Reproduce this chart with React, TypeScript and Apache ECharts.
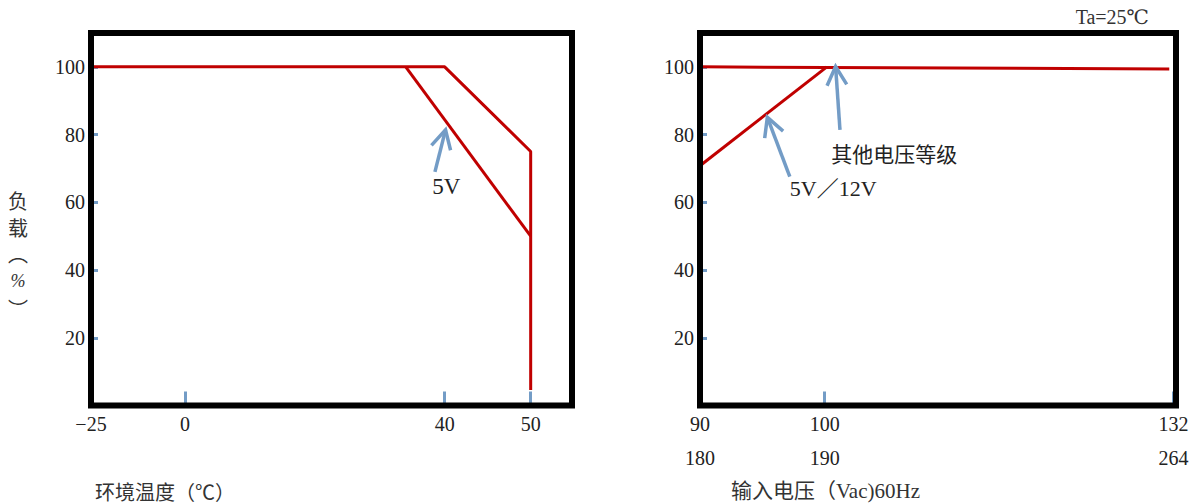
import React, { useEffect, useRef } from 'react';
import * as echarts from 'echarts';

// ---- data ----
const loadTicks = [20, 40, 60, 80, 100];
const tempTicks = [-25, 0, 40, 50];
const voltTicks = [90, 100, 132];
const voltTicks230 = [180, 190, 264];

// Load (%) vs ambient temperature (°C)
const tempDerating: [number, number][] = [[-25, 100], [40, 100], [50, 75], [50, 4.6]];
const tempDerating5V: [number, number][] = [[34, 100], [50, 50]];
// Load (%) vs input voltage (Vac)
const voltDeratingOther: [number, number][] = [[90, 100], [131.6, 99.4]];
const voltDerating5V12V: [number, number][] = [[90, 70.8], [100.2, 100]];

type Note = { text: string; tip: [number, number]; tail: [number, number]; at: [number, number]; align: string; size: number };
const tempNotes: Note[] = [
  { text: '5V', tip: [40.1, 81.4], tail: [38.5, 69], at: [40.2, 64.6], align: 'center', size: 23 },
];
const voltNotes: Note[] = [
  { text: '其他电压等级', tip: [101.0, 100.1], tail: [101.4, 81.4], at: [100.6, 74.5], align: 'left', size: 21 },
  { text: '5V／12V', tip: [95.4, 85.1], tail: [97.2, 67.6], at: [97.2, 64.2], align: 'left', size: 22 },
];

// ---- non-uniform axis scales (value -> fraction of axis length) ----
const tempScaleKnots: [number, number][] = [[-25, 0], [0, 0.1954], [40, 0.7353], [50, 0.9141], [54.8, 1]];
const voltScaleKnots: [number, number][] = [[90, 0], [100, 0.262], [132, 0.995], [132.2, 1]];

function makeScale(knots: [number, number][]) {
  return (v: number) => {
    for (let i = 0; i < knots.length - 1; i++) {
      const [a, fa] = knots[i];
      const [b, fb] = knots[i + 1];
      if (v <= b || i === knots.length - 2) {
        return fa + ((v - a) / (b - a)) * (fb - fa);
      }
    }
    return 0;
  };
}
const sxTemp = makeScale(tempScaleKnots);
const sxVolt = makeScale(voltScaleKnots);

const SERIF = "'Liberation Serif', 'DejaVu Serif', 'Noto Sans CJK SC', serif";
const CJK = "'Noto Sans CJK SC', 'Liberation Serif', sans-serif";
const RED = '#c00000';
const BLUE = '#739cc6';
const TXT = '#222';

const LG = { left: 91, top: 33, width: 481, height: 372.5 };
const RG = { left: 700, top: 33, width: 476, height: 372.5 };

function labelFormatter(positions: number[], labels: (number | string)[]) {
  return (val: number) => {
    const i = positions.findIndex((p) => Math.abs(p - val) < 1e-6);
    return i >= 0 ? String(labels[i]).replace('-', '−') : '';
  };
}

function xAxisOpt(gridIndex: number, positions: number[], labels: (number | string)[], withTicks: boolean, offset = 0) {
  return {
    type: 'value',
    gridIndex,
    min: 0,
    max: 1,
    offset,
    position: 'bottom',
    splitLine: { show: false },
    axisLine: { show: false },
    axisTick: {
      show: withTicks,
      inside: true,
      length: 14,
      customValues: positions,
      lineStyle: { color: BLUE, width: 3 },
    },
    axisLabel: {
      show: true,
      customValues: positions,
      formatter: labelFormatter(positions, labels),
      margin: 8,
      fontSize: 20,
      color: TXT,
      fontFamily: SERIF,
      showMinLabel: true,
      showMaxLabel: true,
    },
  };
}

function yAxisOpt(gridIndex: number) {
  return {
    type: 'value',
    gridIndex,
    min: 0,
    max: 110,
    splitLine: { show: false },
    axisLine: { show: false },
    axisTick: {
      show: true,
      inside: true,
      length: 7,
      customValues: loadTicks,
      lineStyle: { color: BLUE, width: 3 },
    },
    axisLabel: {
      customValues: loadTicks,
      margin: 6,
      fontSize: 20,
      color: TXT,
      fontFamily: SERIF,
    },
  };
}

function noteSeries(notes: Note[], sx: (v: number) => number, xAxisIndex: number, yAxisIndex: number) {
  return {
    type: 'custom',
    xAxisIndex,
    yAxisIndex,
    clip: false,
    z: 5,
    encode: { x: [0, 2, 4], y: [1, 3, 5] },
    data: notes.map((n) => [sx(n.tip[0]), n.tip[1], sx(n.tail[0]), n.tail[1], sx(n.at[0]), n.at[1]]),
    renderItem: (params: any, api: any) => {
      const note = notes[params.dataIndex];
      const tip = api.coord([api.value(0), api.value(1)]);
      const tail = api.coord([api.value(2), api.value(3)]);
      const at = api.coord([api.value(4), api.value(5)]);
      const ang = Math.atan2(tail[1] - tip[1], tail[0] - tip[0]);
      const L = 21;
      const a = (28 * Math.PI) / 180;
      const w1 = [tip[0] + L * Math.cos(ang + a), tip[1] + L * Math.sin(ang + a)];
      const w2 = [tip[0] + L * Math.cos(ang - a), tip[1] + L * Math.sin(ang - a)];
      const isCjk = /[\u4e00-\u9fff]/.test(note.text);
      return {
        type: 'group',
        children: [
          { type: 'polyline', shape: { points: [tip, tail] }, style: { stroke: BLUE, lineWidth: 3.5, fill: null } },
          { type: 'polyline', shape: { points: [w1, tip, w2] }, style: { stroke: BLUE, lineWidth: 3.5, fill: null } },
          {
            type: 'text',
            x: at[0],
            y: at[1],
            style: {
              text: note.text,
              fontSize: note.size,
              fontFamily: isCjk ? CJK : SERIF,
              fill: TXT,
              align: note.align,
              verticalAlign: 'middle',
            },
          },
        ],
      };
    },
  };
}

function lineSeries(points: [number, number][], sx: (v: number) => number, xAxisIndex: number, yAxisIndex: number) {
  return {
    type: 'line',
    xAxisIndex,
    yAxisIndex,
    symbol: 'none',
    z: 4,
    lineStyle: { color: RED, width: 3 },
    data: points.map(([x, y]) => [sx(x), y]),
  };
}

function vText(text: string, y: number, opts: any = {}) {
  const style: any = {
    text,
    fontSize: opts.fontSize || 20,
    fontFamily: opts.fontFamily || CJK,
    fontStyle: opts.fontStyle || 'normal',
    fill: '#333',
    align: 'center',
    verticalAlign: 'middle',
  };
  if (opts.lineHeight) style.lineHeight = opts.lineHeight;
  return { type: 'text', x: 18, y, style };
}

export default function App() {
  const ref = useRef<HTMLDivElement>(null);
  useEffect(() => {
    if (!ref.current) return;
    const chart = echarts.init(ref.current, undefined, { renderer: 'svg' });
    const tempPos = tempTicks.map(sxTemp);
    const voltPos = voltTicks.map(sxVolt);
    const frame = (g: typeof LG) => ({
      type: 'rect',
      z: 100,
      shape: { x: g.left, y: g.top, width: g.width, height: g.height },
      style: { fill: 'none', stroke: '#000', lineWidth: 6 },
    });
    chart.setOption({
      animation: false,
      backgroundColor: '#fff',
      grid: [
        { left: LG.left, top: LG.top, width: LG.width, height: LG.height, show: false },
        { left: RG.left, top: RG.top, width: RG.width, height: RG.height, show: false },
      ],
      xAxis: [
        xAxisOpt(0, tempPos, tempTicks, true),
        xAxisOpt(1, voltPos, voltTicks, true),
        xAxisOpt(1, voltPos, voltTicks230, false, 34),
      ],
      yAxis: [yAxisOpt(0), yAxisOpt(1)],
      series: [
        lineSeries(tempDerating, sxTemp, 0, 0),
        lineSeries(tempDerating5V, sxTemp, 0, 0),
        lineSeries(voltDeratingOther, sxVolt, 1, 1),
        lineSeries(voltDerating5V12V, sxVolt, 1, 1),
        noteSeries(tempNotes, sxTemp, 0, 0),
        noteSeries(voltNotes, sxVolt, 1, 1),
      ],
      graphic: [
        frame(LG),
        frame(RG),
        vText('负', 200, { lineHeight: 20 }),
        vText('载', 227, { lineHeight: 20 }),
        vText('︵', 253, { lineHeight: 12 }),
        vText('%', 281, { fontSize: 18, fontFamily: SERIF, fontStyle: 'italic', lineHeight: 18 }),
        vText('︶', 308, { lineHeight: 12 }),
        {
          type: 'text',
          x: 95,
          y: 491,
          style: { text: '环境温度（℃）', fontSize: 20, fontFamily: CJK, fill: '#333', align: 'left', verticalAlign: 'middle' },
        },
        {
          type: 'text',
          x: 731,
          y: 491,
          style: { text: '输入电压（Vac)60Hz', fontSize: 21, fontFamily: SERIF, fill: '#333', align: 'left', verticalAlign: 'middle' },
        },
        {
          type: 'text',
          x: 1149,
          y: 17,
          style: { text: 'Ta=25℃', fontSize: 20, fontFamily: SERIF, fill: '#333', align: 'right', verticalAlign: 'middle' },
        },
      ],
    });
    return () => chart.dispose();
  }, []);
  return <div ref={ref} style={{ position: 'fixed', left: 0, top: 0, width: 1202, height: 504 }} />;
}
